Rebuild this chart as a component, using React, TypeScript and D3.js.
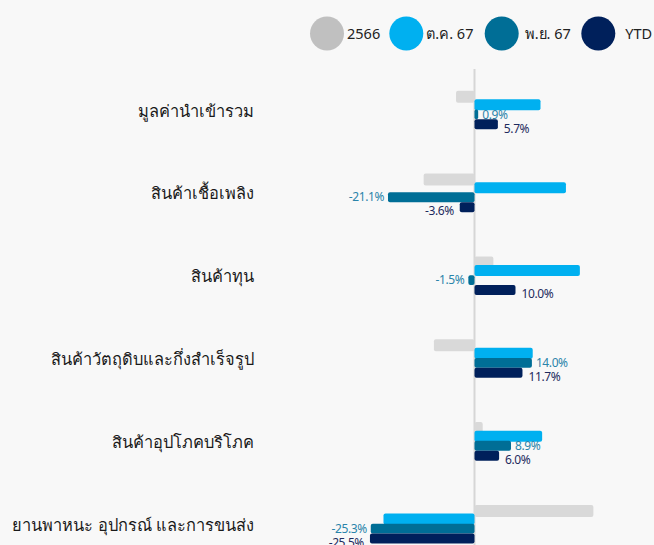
import React from "react";
import * as d3 from "d3";

const categories = [
  "มูลค่านำเข้ารวม",
  "สินค้าเชื้อเพลิง",
  "สินค้าทุน",
  "สินค้าวัตถุดิบและกึ่งสำเร็จรูป",
  "สินค้าอุปโภคบริโภค",
  "ยานพาหนะ อุปกรณ์ และการขนส่ง",
];
const seriesNames = ["2566", "ต.ค. 67", "พ.ย. 67", "YTD"];
const values2566 = [-4.5, -12.4, 4.6, -9.9, 2.0, 29.0];
const valuesOct67 = [16.1, 22.3, 25.7, 14.2, 16.5, -22.2];
const valuesNov67 = [0.9, -21.1, -1.5, 14.0, 8.9, -25.3];
const valuesYTD = [5.7, -3.6, 10.0, 11.7, 6.0, -25.5];
const labelledSeries = [false, false, true, true];

const W = 654;
const H = 545;
const barColors = ["#d9d9d9", "#00b0f0", "#006e96", "#00205b"];
const legendColors = ["#c0c0c0", "#00b0f0", "#006e96", "#00205b"];
const labelColors = ["", "", "#2a84aa", "#1e2b5e"];
const FONT = "'Noto Sans', 'DejaVu Sans', sans-serif";

export default function App() {
  const allSeries = [values2566, valuesOct67, valuesNov67, valuesYTD];
  const x = d3.scaleLinear().domain([-30, 30]).range([474.5 - 123, 474.5 + 123]);
  const y = d3.scaleBand<string>().domain(categories).range([69, 566]);
  const barOffsets = [0, 8.6, 18.8, 28.6];
  const barHeights = [12, 11, 9.8, 10];
  const legendX = [327, 406.3, 501.7, 598.3];
  const legendTextGap = [20, 20, 23, 27];

  return (
    <svg
      width={W}
      height={H}
      style={{ position: "absolute", left: 0, top: 0, background: "#f8f8f8" }}
      fontFamily={FONT}
    >
      <rect x={0} y={0} width={W} height={H} fill="#f8f8f8" />
      {/* legend */}
      {seriesNames.map((s, i) => (
        <g key={s}>
          <circle cx={legendX[i]} cy={33.5} r={17} fill={legendColors[i]} />
          <text
            x={legendX[i] + legendTextGap[i]}
            y={33.5}
            dy="0.35em"
            fontSize={14.5}
            fill="#222"
          >
            {s}
          </text>
        </g>
      ))}
      {/* zero line */}
      <line x1={x(0)} x2={x(0)} y1={69} y2={H} stroke="#d6d6d6" strokeWidth={2} />
      {categories.map((c, ci) => {
        const center = (y(c) as number) + y.bandwidth() / 2;
        const top = center - 19.7;
        return (
          <g key={c}>
            <text
              x={254}
              y={center + 0.5}
              dy="0.35em"
              textAnchor="end"
              fontSize={16.4}
              fill="#1a1a1a"
            >
              {c}
            </text>
            {allSeries.map((vals, si) => {
              const v = vals[ci];
              const x0 = Math.min(x(0), x(v));
              const w = Math.abs(x(v) - x(0));
              return (
                <rect
                  key={si}
                  x={x0}
                  y={top + barOffsets[si]}
                  width={Math.max(w, 1)}
                  height={barHeights[si]}
                  rx={2}
                  fill={barColors[si]}
                />
              );
            })}
            {allSeries.map((vals, si) => {
              if (!labelledSeries[si]) return null;
              const v = vals[ci];
              const gap = si === 2 ? 4 : 6;
              const by = top + barOffsets[si] + barHeights[si] / 2 + (si === 3 ? 4 : 0);
              return (
                <text
                  key={"l" + si}
                  x={v >= 0 ? x(v) + gap : x(v) - gap}
                  y={by}
                  dy="0.35em"
                  textAnchor={v >= 0 ? "start" : "end"}
                  fontSize={12}
                  letterSpacing={-0.4}
                  fill={labelColors[si]}
                >
                  {v.toFixed(1) + "%"}
                </text>
              );
            })}
          </g>
        );
      })}
    </svg>
  );
}
